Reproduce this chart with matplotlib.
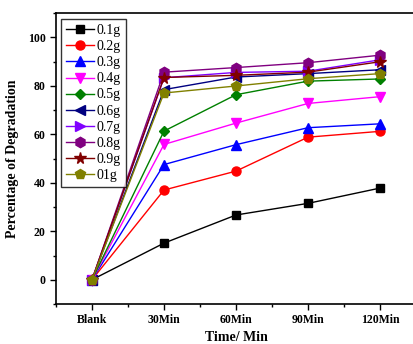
import matplotlib
matplotlib.use('Agg')
import matplotlib.pyplot as plt
from matplotlib.ticker import MultipleLocator

plt.rcParams['font.family'] = ['Liberation Serif', 'DejaVu Serif']

# 数据
times = ['Blank', '30Min', '60Min', '90Min', '120Min']
labels = ['0.1g', '0.2g', '0.3g', '0.4g', '0.5g', '0.6g', '0.7g', '0.8g', '0.9g', '01g']
d01 = [0, 15.1, 26.7, 31.5, 37.8]
d02 = [0, 37.0, 44.8, 58.8, 61.2]
d03 = [0, 47.5, 55.7, 62.7, 64.3]
d04 = [0, 55.8, 64.6, 72.7, 75.5]
d05 = [0, 61.3, 76.3, 81.9, 82.8]
d06 = [0, 78.4, 83.6, 85.0, 86.6]
d07 = [0, 83.3, 85.5, 86.0, 90.7]
d08 = [0, 85.6, 87.5, 89.5, 92.6]
d09 = [0, 83.4, 84.3, 85.6, 89.9]
d10 = [0, 77.0, 79.9, 82.9, 85.0]
series = [d01, d02, d03, d04, d05, d06, d07, d08, d09, d10]

colors = ['black', 'red', 'blue', 'magenta', '#008000', '#000080',
          '#8000ff', '#800080', '#800000', '#808000']
markers = ['s', 'o', '^', 'v', 'D', '<', '>', 'h', '*', 'p']
msizes = [5.5, 6.5, 6.5, 6.5, 5.5, 6.5, 6.5, 7.5, 8.5, 7.5]

fig = plt.figure(figsize=(4.14, 3.44), dpi=100)
ax = fig.add_axes([56 / 414, 40 / 344, 360 / 414, 291 / 344])

x = list(range(len(times)))
for ys, lab, c, m, ms in zip(series, labels, colors, markers, msizes):
    ax.plot(x, ys, color=c, marker=m, markersize=ms, lw=1.0, label=lab)

ax.set_xlim(-0.5, 4.5)
ax.set_ylim(-10, 110)
ax.set_xticks(x)
ax.set_xticklabels(times, fontweight='bold', fontsize=8.5)
ax.xaxis.set_minor_locator(MultipleLocator(0.5))
ax.yaxis.set_major_locator(MultipleLocator(20))
ax.yaxis.set_minor_locator(MultipleLocator(10))
for t in ax.get_yticklabels():
    t.set_fontweight('bold')
    t.set_fontsize(8.5)
ax.tick_params(which='major', direction='out', length=4, width=1)
ax.tick_params(which='minor', direction='out', length=2.5, width=1)
for s in ax.spines.values():
    s.set_linewidth(1.2)

ax.set_xlabel('Time/ Min', fontweight='bold', fontsize=10, labelpad=3)
ax.set_ylabel('Percentage of Degradation', fontweight='bold', fontsize=10, labelpad=6)

leg = ax.legend(loc='upper left', bbox_to_anchor=(0.005, 0.99), fontsize=10,
                frameon=True, fancybox=False, edgecolor='black',
                handlelength=2.0, handletextpad=0.2, labelspacing=0.22,
                borderpad=0.4, borderaxespad=0.2)
leg.get_frame().set_linewidth(1.0)

fig.savefig('out.png', dpi=100)
